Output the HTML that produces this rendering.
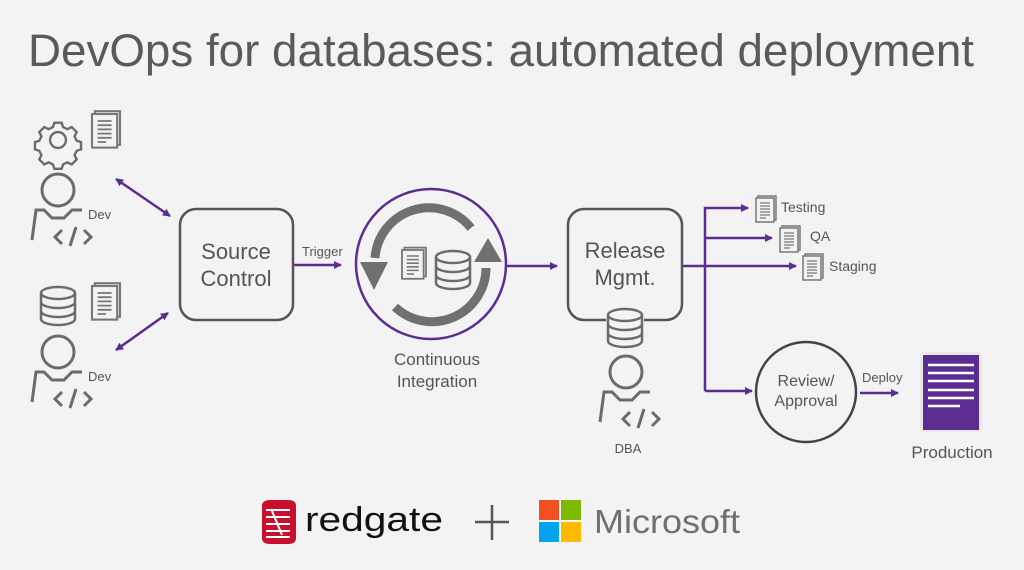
<!DOCTYPE html>
<html><head><style>
html,body{margin:0;padding:0;background:#f3f3f3;}
svg{display:block;}
text{font-family:"Liberation Sans",sans-serif;fill:#555;}
</style></head><body>
<svg width="1024" height="570" viewBox="0 0 1024 570" xmlns="http://www.w3.org/2000/svg">
<defs>
<marker id="ah" markerWidth="8" markerHeight="8" refX="7" refY="4" orient="auto-start-reverse" markerUnits="userSpaceOnUse"><path d="M0,0 L8,4 L0,8 z" fill="#5c2d91"/></marker>
<g id="doc"><rect x="2" y="-2" width="18" height="24" fill="#eee" stroke="#777" stroke-width="1.5"/><rect x="0" y="0" width="18" height="24" fill="#f2f2f2" stroke="#777" stroke-width="1.5"/><path d="M4,5h10M4,8h10M4,11h10M4,14h10M4,17h10M4,20h6" stroke="#777" stroke-width="1.3"/></g>
<g id="person" fill="none" stroke="#6b6b6b" stroke-width="3"><circle cx="0" cy="0" r="16"/><path d="M-26,50 L-22,20 L-14,20 L-6,28 L6,28 L14,20 L24,20"/><path d="M4,40 L-3,47 L4,54 M12,56 L18,37 M26,40 L33,47 L26,54"/></g>
<g id="db" fill="none" stroke="#6b6b6b" stroke-width="2.5"><ellipse cx="0" cy="0" rx="17" ry="6"/><path d="M-17,0 v26 a17,6 0 0 0 34,0 v-26 M-17,9 a17,6 0 0 0 34,0 M-17,18 a17,6 0 0 0 34,0"/></g>
</defs>

<text x="28" y="66" font-size="45" textLength="946" lengthAdjust="spacingAndGlyphs" style="fill:#5a5a5a">DevOps for databases: automated deployment</text>

<!-- gear -->
<g fill="none" stroke="#6b6b6b" stroke-width="3.3" transform="translate(58,140) scale(0.72) translate(-58,-141)">
<circle cx="58" cy="141" r="11"/>
<path d="M53,117 h10 l2,6 l6,3 l6,-3 l7,7 l-3,6 l3,6 l6,2 v10 l-6,2 l-3,6 l3,6 l-7,7 l-6,-3 l-6,3 l-2,6 h-10 l-2,-6 l-6,-3 l-6,3 l-7,-7 l3,-6 l-3,-6 l-6,-2 v-10 l6,-2 l3,-6 l-3,-6 l7,-7 l6,3 l6,-3 z"/>
</g>
<g transform="translate(92,114) scale(1.4)"><use href="#doc"/></g>
<use href="#person" x="58" y="190"/>
<text x="88" y="219" font-size="13">Dev</text>

<use href="#db" x="58" y="293"/>
<g transform="translate(92,286) scale(1.4)"><use href="#doc"/></g>
<use href="#person" x="58" y="352"/>
<text x="88" y="381" font-size="13">Dev</text>

<g stroke="#5c2d91" stroke-width="2.5" fill="none">
<line x1="116" y1="179" x2="170" y2="216" marker-start="url(#ah)" marker-end="url(#ah)"/>
<line x1="116" y1="350" x2="168" y2="313" marker-start="url(#ah)" marker-end="url(#ah)"/>
<line x1="293" y1="265" x2="341" y2="265" marker-end="url(#ah)"/>
<line x1="507" y1="266" x2="557" y2="266" marker-end="url(#ah)"/>
<path d="M682,266 H796" marker-end="url(#ah)"/>
<path d="M705,391 V208 H748" marker-end="url(#ah)"/>
<line x1="705" y1="238" x2="772" y2="238" marker-end="url(#ah)"/>
<line x1="705" y1="391" x2="752" y2="391" marker-end="url(#ah)"/>
<line x1="860" y1="393" x2="898" y2="393" marker-end="url(#ah)"/>
</g>

<rect x="180" y="209" width="113" height="111" rx="16" fill="none" stroke="#555" stroke-width="2.5"/>
<text x="236" y="259" font-size="22" text-anchor="middle">Source</text>
<text x="236" y="286" font-size="22" text-anchor="middle">Control</text>
<text x="302" y="256" font-size="13">Trigger</text>

<circle cx="431" cy="264" r="75" fill="none" stroke="#5c2d91" stroke-width="2.5"/>
<g fill="none" stroke="#707070" stroke-width="9">
<path d="M471,228 A54,54 0 0 0 375,258"/>
<path d="M395,307 A54,54 0 0 0 486,268"/>
</g>
<path d="M360,262 L388,262 L374,290 z" fill="#707070"/>
<path d="M474,262 L502,262 L488,238 z" fill="#707070"/>
<g transform="translate(402,250) scale(1.2)"><use href="#doc"/></g>
<use href="#db" x="453" y="257"/>
<text x="437" y="365" font-size="17" text-anchor="middle">Continuous</text>
<text x="437" y="387" font-size="17" text-anchor="middle">Integration</text>

<rect x="568" y="209" width="114" height="111" rx="16" fill="none" stroke="#555" stroke-width="2.5"/>
<text x="625" y="258" font-size="22" text-anchor="middle">Release</text>
<text x="625" y="285" font-size="22" text-anchor="middle">Mgmt.</text>
<rect x="606" y="310" width="38" height="40" fill="#f3f3f3"/>
<use href="#db" x="625" y="315"/>
<use href="#person" x="626" y="372"/>
<text x="628" y="453" font-size="13" text-anchor="middle">DBA</text>

<use href="#doc" x="756" y="198"/>
<text x="781" y="212" font-size="14">Testing</text>
<use href="#doc" x="780" y="228"/>
<text x="810" y="241" font-size="14">QA</text>
<use href="#doc" x="803" y="256"/>
<text x="829" y="271" font-size="14">Staging</text>

<circle cx="806" cy="392" r="50" fill="none" stroke="#444" stroke-width="2.5"/>
<text x="806" y="386" font-size="16" text-anchor="middle">Review/</text>
<text x="806" y="406" font-size="16" text-anchor="middle">Approval</text>
<text x="862" y="382" font-size="13">Deploy</text>

<rect x="920" y="352" width="62" height="80" rx="4" fill="#e8e8e8"/>
<rect x="923" y="355" width="56" height="75" fill="#5c2d91"/>
<path d="M928,365h46M928,373h46M928,381h46M928,390h46M928,398h46M928,406h32" stroke="#fff" stroke-width="2.5"/>
<text x="952" y="458" font-size="17" text-anchor="middle">Production</text>

<g>
<path d="M262,506 q0,-6 8,-6 h18 q8,0 8,6 v32 q0,6 -8,6 h-18 q-8,0 -8,-6 z" fill="#c8102e"/>
<path d="M266,510h24M266,517h24M266,524h24M266,531h24M266,537h24M272,511 l10,24" stroke="#fff" stroke-width="2"/>
<text x="305" y="531" font-size="34" style="fill:#111" textLength="138" lengthAdjust="spacingAndGlyphs">redgate</text>
<path d="M475,522 h34 M492,505 v35" stroke="#555" stroke-width="2.5"/>
<rect x="539" y="500" width="20" height="20" fill="#f25022"/>
<rect x="561" y="500" width="20" height="20" fill="#7fba00"/>
<rect x="539" y="522" width="20" height="20" fill="#00a4ef"/>
<rect x="561" y="522" width="20" height="20" fill="#ffb900"/>
<text x="594" y="533" font-size="33" style="fill:#707070" textLength="146" lengthAdjust="spacingAndGlyphs">Microsoft</text>
</g>
</svg>
</body></html>
